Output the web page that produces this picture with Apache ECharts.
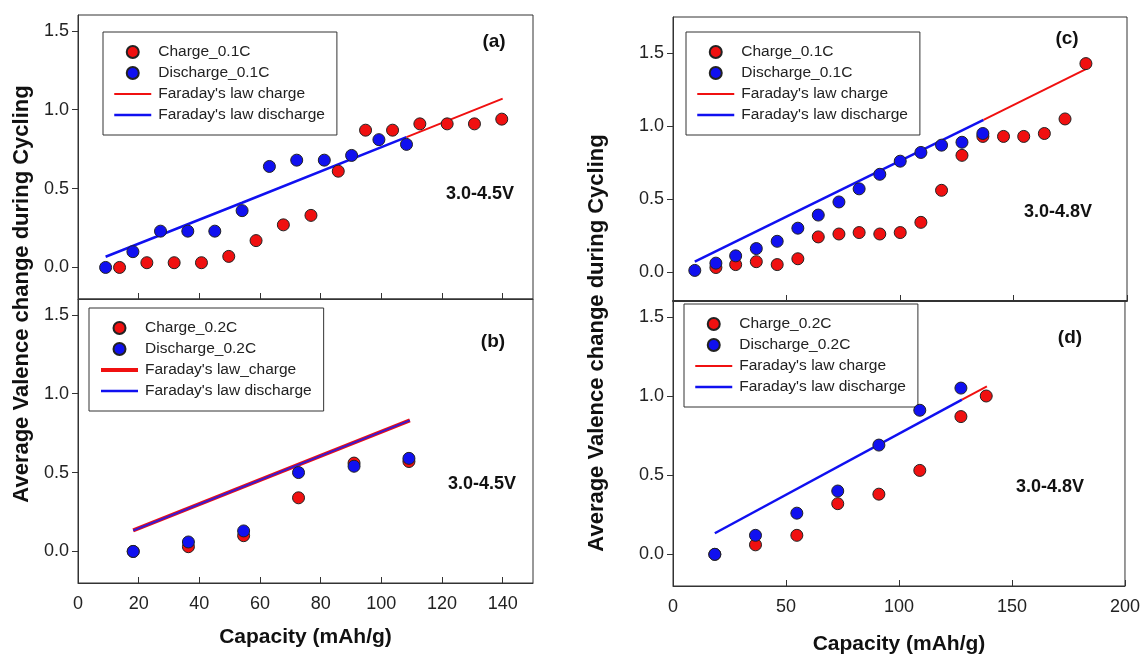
<!DOCTYPE html>
<html>
<head>
<meta charset="utf-8">
<script src="https://cdn.jsdelivr.net/npm/echarts@6/dist/echarts.min.js"></script>
<style>
  html, body { margin: 0; padding: 0; background: #fff; }
  #chart { width: 1143px; height: 656px; }
</style>
</head>
<body>
<div id="chart"></div>
<script>
// panel (a) 3.0-4.5V, 0.1C
const aChargeX = [13.7, 22.7, 31.7, 40.7, 49.7, 58.7, 67.7, 76.8, 85.8, 94.8, 103.7, 112.7, 121.7, 130.7, 139.7]
const aChargeY = [0.00, 0.03, 0.03, 0.03, 0.07, 0.17, 0.27, 0.33, 0.61, 0.87, 0.87, 0.91, 0.91, 0.91, 0.94]
const aDischargeX = [9.1, 18.1, 27.2, 36.2, 45.1, 54.1, 63.1, 72.1, 81.2, 90.2, 99.2, 108.3]
const aDischargeY = [0.00, 0.10, 0.23, 0.23, 0.23, 0.36, 0.64, 0.68, 0.68, 0.71, 0.81, 0.78]
const aLawDisX = [9.1, 54.1, 108.3]
const aLawDisY = [0.068, 0.41, 0.826]
const aLawChgX = [108.3, 140]
const aLawChgY = [0.826, 1.07]

// panel (b) 3.0-4.5V, 0.2C
const bX = [18.2, 36.4, 54.6, 72.7, 91.0, 109.1]
const bChargeY = [0.00, 0.03, 0.10, 0.34, 0.56, 0.57]
const bDischargeY = [0.00, 0.06, 0.13, 0.50, 0.54, 0.59]
const bLawX = [18.2, 109.4]
const bLawY = [0.133, 0.831]

// panel (c) 3.0-4.8V, 0.1C
const cChargeX = [18.9, 27.6, 36.7, 45.9, 55.0, 64.0, 73.1, 82.0, 91.1, 100.1, 109.2, 118.3, 127.3, 136.5, 145.6, 154.5, 163.6, 172.7, 181.9]
const cChargeY = [0.03, 0.05, 0.07, 0.05, 0.09, 0.24, 0.26, 0.27, 0.26, 0.27, 0.34, 0.56, 0.80, 0.93, 0.93, 0.93, 0.95, 1.05, 1.43]
const cDischargeX = [9.6, 18.9, 27.6, 36.7, 45.9, 55.0, 64.0, 73.1, 82.0, 91.1, 100.1, 109.2, 118.3, 127.3, 136.5]
const cDischargeY = [0.01, 0.06, 0.11, 0.16, 0.21, 0.30, 0.39, 0.48, 0.57, 0.67, 0.76, 0.82, 0.87, 0.89, 0.95]
const cLawDisX = [9.6, 136.8]
const cLawDisY = [0.071, 1.044]
const cLawChgX = [136.8, 181.9]
const cLawChgY = [1.044, 1.392]

// panel (d) 3.0-4.8V, 0.2C
const dChargeX = [18.5, 36.5, 54.8, 72.9, 91.1, 109.2, 127.4, 138.6]
const dChargeY = [0.00, 0.06, 0.12, 0.32, 0.38, 0.53, 0.87, 1.00]
const dDischargeX = [18.5, 36.5, 54.8, 72.9, 91.1, 109.2, 127.4]
const dDischargeY = [0.00, 0.12, 0.26, 0.40, 0.69, 0.91, 1.05]
const dLawDisX = [18.5, 127.9]
const dLawDisY = [0.133, 0.977]
const dLawChgX = [127.9, 138.9]
const dLawChgY = [0.977, 1.061]

// tick labels
const yTicks = [0, 0.5, 1.0, 1.5]
const xTicksLeft = [0, 20, 40, 60, 80, 100, 120, 140]
const xTicksRight = [0, 50, 100, 150, 200]

const RED = '#f01010'
const BLUE = '#1010f0'
const FONT = 'Liberation Sans, Arial, sans-serif'

const zip = (xs, ys) => xs.map((x, i) => [x, ys[i]])

const chart = echarts.init(document.getElementById('chart'))

function makeGrid(left, top, width, height) {
  return { left, top, width, height, show: true, borderColor: '#333', borderWidth: 1, backgroundColor: 'transparent' }
}

function makeX(idx, max, ticks, showLabel, lineW) {
  return {
    type: 'value', gridIndex: idx, min: 0, max: max,
    axisLine: { show: true, onZero: false, lineStyle: { color: '#333', width: lineW || 1 } },
    axisTick: { show: true, inside: true, length: 6, customValues: ticks, lineStyle: { color: '#333' } },
    axisLabel: { show: showLabel, customValues: ticks, margin: 12, fontSize: 18, color: '#222', fontFamily: FONT },
    splitLine: { show: false }
  }
}

function makeY(idx, max) {
  return {
    type: 'value', gridIndex: idx, min: -0.2, max: max,
    axisLine: { show: true, onZero: false, lineStyle: { color: '#333', width: 1 } },
    axisTick: { show: true, inside: false, length: 6, customValues: yTicks, lineStyle: { color: '#333' } },
    axisLabel: {
      show: true, customValues: yTicks, margin: 9, fontSize: 18, color: '#222', fontFamily: FONT,
      formatter: v => v.toFixed(1)
    },
    splitLine: { show: false }
  }
}

function dots(name, idx, xs, ys, color, z) {
  return {
    name, type: 'scatter', xAxisIndex: idx, yAxisIndex: idx, data: zip(xs, ys),
    symbol: 'circle', symbolSize: 12, z: z,
    itemStyle: { color, borderColor: '#222', borderWidth: 1, opacity: 1 }
  }
}

function law(name, idx, xs, ys, color, width) {
  return {
    name, type: 'line', xAxisIndex: idx, yAxisIndex: idx, data: zip(xs, ys),
    symbol: 'none', z: 2, lineStyle: { color, width }, itemStyle: { color }
  }
}

// line entries in the legend: keep the stroke, hide the symbol dot
const lineItem = (name, color, width) => ({ name, itemStyle: { opacity: 0 }, lineStyle: { color, width } })

function legendAt(left, top, names, chargeWidth) {
  return {
    left, top, orient: 'vertical',
    data: [names[0], names[1], lineItem(names[2], RED, chargeWidth || 2), lineItem(names[3], BLUE, 2.5)],
    itemWidth: 37, itemHeight: 12, itemGap: 5,
    padding: [12, 12, 12, 10],
    borderColor: '#333', borderWidth: 1, backgroundColor: '#fff',
    selectedMode: false,
    textStyle: { fontSize: 15.5, lineHeight: 15, color: '#222', fontFamily: FONT, padding: [0, 0, 0, 2] }
  }
}

function boldText(x, y, text, size) {
  return {
    type: 'text', x, y,
    style: { text, fill: '#111', font: 'bold ' + size + 'px ' + FONT, textAlign: 'center', textVerticalAlign: 'middle' }
  }
}

const option = {
  animation: false,
  backgroundColor: '#fff',
  grid: [
    makeGrid(78, 15, 455, 284),
    makeGrid(78, 299, 455, 284),
    makeGrid(673, 17, 454, 284),
    makeGrid(673, 301, 454, 286)
  ],
  xAxis: [
    makeX(0, 150, xTicksLeft, false),
    Object.assign(makeX(1, 150, xTicksLeft, true), {
      name: 'Capacity (mAh/g)', nameLocation: 'middle', nameGap: 44,
      nameTextStyle: { fontSize: 21, fontWeight: 'bold', color: '#111', fontFamily: FONT }
    }),
    makeX(2, 200, xTicksRight, false, 2),
    Object.assign(makeX(3, 200, xTicksRight, true), {
      name: 'Capacity (mAh/g)', nameLocation: 'middle', nameGap: 48,
      nameTextStyle: { fontSize: 21, fontWeight: 'bold', color: '#111', fontFamily: FONT }
    })
  ],
  yAxis: [makeY(0, 1.6), makeY(1, 1.6), makeY(2, 1.75), makeY(3, 1.6)],
  legend: [
    legendAt(103, 32, ['Charge_0.1C', 'Discharge_0.1C', "Faraday's law charge", "Faraday's law discharge"]),
    legendAt(89, 308, ['Charge_0.2C', 'Discharge_0.2C', "Faraday's law_charge", "Faraday's law discharge"], 4),
    legendAt(686, 32, ['Charge_0.1C', 'Discharge_0.1C', "Faraday's law charge", "Faraday's law discharge"]),
    legendAt(684, 304, ['Charge_0.2C', 'Discharge_0.2C', "Faraday's law charge", "Faraday's law discharge"])
  ],
  series: [
    law("Faraday's law discharge", 0, aLawDisX, aLawDisY, BLUE, 2.5),
    law("Faraday's law charge", 0, aLawChgX, aLawChgY, RED, 2),
    dots('Charge_0.1C', 0, aChargeX, aChargeY, RED, 3),
    dots('Discharge_0.1C', 0, aDischargeX, aDischargeY, BLUE, 4),

    law("Faraday's law_charge", 1, bLawX, bLawY, RED, 4),
    law("Faraday's law discharge", 1, bLawX, bLawY, '#3a1ad0', 2),
    dots('Charge_0.2C', 1, bX, bChargeY, RED, 3),
    dots('Discharge_0.2C', 1, bX, bDischargeY, BLUE, 4),

    law("Faraday's law discharge", 2, cLawDisX, cLawDisY, BLUE, 2.5),
    law("Faraday's law charge", 2, cLawChgX, cLawChgY, RED, 2),
    dots('Charge_0.1C', 2, cChargeX, cChargeY, RED, 3),
    dots('Discharge_0.1C', 2, cDischargeX, cDischargeY, BLUE, 4),

    law("Faraday's law discharge", 3, dLawDisX, dLawDisY, BLUE, 2.5),
    law("Faraday's law charge", 3, dLawChgX, dLawChgY, RED, 2),
    dots('Charge_0.2C', 3, dChargeX, dChargeY, RED, 3),
    dots('Discharge_0.2C', 3, dDischargeX, dDischargeY, BLUE, 4)
  ],
  graphic: [
    {
      type: 'text', x: 22, y: 294, rotation: Math.PI / 2,
      style: { text: 'Average Valence change during Cycling', fill: '#111', font: 'bold 22px ' + FONT, textAlign: 'center', textVerticalAlign: 'middle' }
    },
    {
      type: 'text', x: 597, y: 343, rotation: Math.PI / 2,
      style: { text: 'Average Valence change during Cycling', fill: '#111', font: 'bold 22px ' + FONT, textAlign: 'center', textVerticalAlign: 'middle' }
    },
    boldText(494, 42, '(a)', 19),
    boldText(480, 194, '3.0-4.5V', 18),
    boldText(493, 342, '(b)', 19),
    boldText(482, 484, '3.0-4.5V', 18),
    boldText(1067, 39, '(c)', 19),
    boldText(1058, 212, '3.0-4.8V', 18),
    boldText(1070, 338, '(d)', 19),
    boldText(1050, 487, '3.0-4.8V', 18)
  ]
}

chart.setOption(option)
</script>
</body>
</html>
